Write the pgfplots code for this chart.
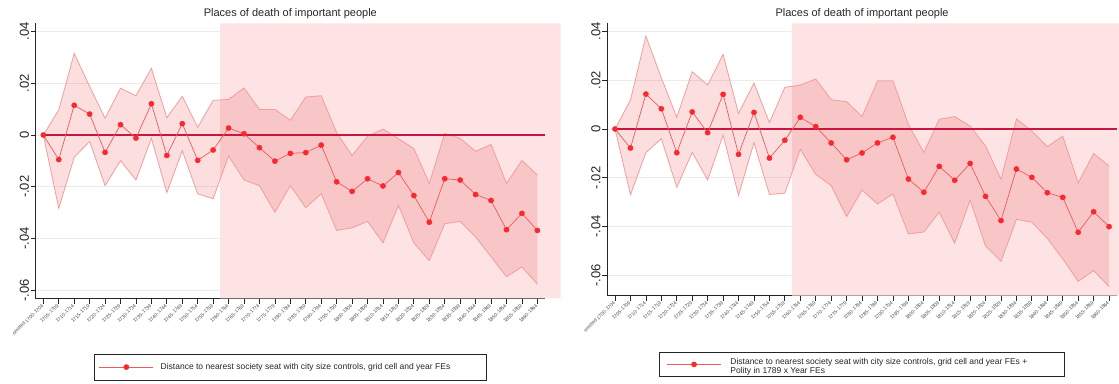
\documentclass[border=0pt]{standalone}
\usepackage{fontspec}
\setmainfont{Liberation Sans}
\usepackage{pgfplots}
\pgfplotsset{compat=1.18}
\usepackage{pgfplotstable}
\usepgfplotslibrary{fillbetween}

\definecolor{shade}{RGB}{253,227,228}
\definecolor{bandfill}{RGB}{235,60,60}
\definecolor{bandedge}{RGB}{244,168,168}
\definecolor{lnred}{RGB}{238,90,90}
\definecolor{mkred}{RGB}{250,40,45}
\definecolor{zeroln}{RGB}{200,22,62}

% x = period index (0 = omitted 1700-1704), est = estimate, lo/hi = 95% CI
\pgfplotstableread{
x est lo hi
0 0 0 0
1 -0.0095 -0.0284 0.0097
2 0.0115 -0.0086 0.0316
3 0.0081 -0.0025 0.0188
4 -0.0067 -0.0196 0.0065
5 0.0040 -0.0099 0.0181
6 -0.0012 -0.0174 0.0152
7 0.0121 -0.0013 0.0258
8 -0.0079 -0.0223 0.0067
9 0.0044 -0.0061 0.0150
10 -0.0098 -0.0228 0.0030
11 -0.0058 -0.0246 0.0134
12 0.0027 -0.0081 0.0138
13 0.0005 -0.0174 0.0182
14 -0.0049 -0.0196 0.0099
15 -0.0101 -0.0299 0.0099
16 -0.0071 -0.0196 0.0057
17 -0.0068 -0.0281 0.0147
18 -0.0039 -0.0227 0.0152
19 -0.0181 -0.0369 0.0009
20 -0.0218 -0.0359 -0.0079
21 -0.0169 -0.0334 -0.0005
22 -0.0197 -0.0417 0.0023
23 -0.0145 -0.0272 -0.0014
24 -0.0234 -0.0417 -0.0052
25 -0.0337 -0.0486 -0.0187
26 -0.0169 -0.0343 0.0006
27 -0.0174 -0.0334 -0.0013
28 -0.0230 -0.0394 -0.0063
29 -0.0253 -0.0471 -0.0036
30 -0.0366 -0.0548 -0.0187
31 -0.0303 -0.0510 -0.0098
32 -0.0369 -0.0577 -0.0155
}\dataA

\pgfplotstableread{
x est lo hi
0 0 0 0
1 -0.0078 -0.0270 0.0119
2 0.0143 -0.0097 0.0381
3 0.0083 -0.0040 0.0210
4 -0.0097 -0.0239 0.0048
5 0.0070 -0.0096 0.0235
6 -0.0015 -0.0209 0.0180
7 0.0142 -0.0025 0.0306
8 -0.0104 -0.0272 0.0064
9 0.0068 -0.0056 0.0188
10 -0.0119 -0.0268 0.0026
11 -0.0046 -0.0263 0.0171
12 0.0048 -0.0083 0.0180
13 0.0010 -0.0186 0.0205
14 -0.0057 -0.0232 0.0120
15 -0.0126 -0.0359 0.0112
16 -0.0098 -0.0250 0.0051
17 -0.0057 -0.0307 0.0197
18 -0.0034 -0.0266 0.0198
19 -0.0205 -0.0430 0.0019
20 -0.0259 -0.0422 -0.0096
21 -0.0153 -0.0341 0.0040
22 -0.0210 -0.0468 0.0051
23 -0.0141 -0.0291 0.0012
24 -0.0276 -0.0479 -0.0070
25 -0.0375 -0.0542 -0.0206
26 -0.0164 -0.0370 0.0041
27 -0.0198 -0.0382 -0.0008
28 -0.0261 -0.0448 -0.0072
29 -0.0280 -0.0532 -0.0029
30 -0.0423 -0.0624 -0.0221
31 -0.0339 -0.0580 -0.0100
32 -0.0400 -0.0646 -0.0152
}\dataB

\pgfplotsset{
  eventstudy/.style={
    scale only axis,
    width=509.5pt,
    xmin=-0.5, xmax=32.5,
    clip=false,
    axis x line*=bottom, axis y line*=left,
    axis line style={line width=1pt, black!85},
    tick align=outside, major tick length=5pt,
    tick style={line width=0.8pt, black!85},
    xtick={0,...,32},
    xticklabels={omitted 1700-1704,1705-1709,1710-1714,1715-1719,1720-1724,1725-1729,
      1730-1734,1735-1739,1740-1744,1745-1749,1750-1754,1755-1759,1760-1764,1765-1769,
      1770-1774,1775-1779,1780-1784,1785-1789,1790-1794,1795-1799,1800-1804,1805-1809,
      1810-1814,1815-1819,1820-1824,1825-1829,1830-1834,1835-1839,1840-1844,1845-1849,
      1850-1854,1855-1859,1860-1864},
    xticklabel style={rotate=45, anchor=east, inner sep=1pt,
      font=\fontsize{5}{6}\selectfont, black!70},
    scaled y ticks=false,
    ytick={-0.06,-0.04,-0.02,0,0.02,0.04},
    yticklabels={-.06,-.04,-.02,0,.02,.04},
    yticklabel style={rotate=90, anchor=south, inner sep=1.5pt,
      font=\fontsize{13}{13}\selectfont, black!85},
    ymajorgrids, grid style={line width=0.8pt, black!8},
    title={Places of death of important people},
    title style={font=\fontsize{11}{11}\selectfont, black!85, yshift=-5pt},
    legend cell align=left,
    legend image code/.code={\draw[#1, mark repeat=2, mark phase=2]
      plot coordinates {(0pt,0pt) (27pt,0pt) (54pt,0pt)};},
    legend style={anchor=north, draw=black!85, line width=0.8pt,
      nodes={inner sep=0pt}, font=\fontsize{8.5}{8.5}\selectfont,
      text=black!85,
      /tikz/every odd column/.append style={column sep=7pt}},
  },
  band/.style={draw=bandedge, line width=0.8pt, forget plot},
  est/.style={color=lnred, line width=0.7pt, mark=*, mark size=2.6pt,
    mark options={solid, fill=mkred, draw=mkred, line width=0.4pt}},
  zero/.style={draw=zeroln, line width=1.25pt, forget plot},
}

\begin{document}
\begin{tikzpicture}
\path (0,0) rectangle (1119pt,383pt);

\begin{axis}[eventstudy, at={(35.6pt,84pt)}, anchor=south west,
  height=275.7pt, ymin=-0.0634, ymax=0.0432,
  legend style={at={(0.5,-0.199)}, inner xsep=5pt, inner ysep=9pt}]
\addplot[fill=shade, draw=none, forget plot] coordinates
  {(11.45,-0.0632) (33.5,-0.0632) (33.5,0.0432) (11.45,0.0432) (11.45,-0.0632)};
\addplot[band, name path=hiA] table[x=x, y=hi] {\dataA};
\addplot[band, name path=loA] table[x=x, y=lo] {\dataA};
\addplot[bandfill, fill opacity=0.17, forget plot]
  fill between[of=hiA and loA, on layer=main];
\addplot[zero] coordinates {(0,0) (32.5,0)};
\addplot[est] table[x=x, y=est] {\dataA};
\addlegendentry{\makebox[321pt][l]{Distance to nearest society seat with city size controls, grid cell and year FEs}}
\end{axis}

\begin{axis}[eventstudy, at={(607.3pt,87pt)}, anchor=south west,
  height=272.7pt, ymin=-0.0684, ymax=0.0433,
  legend style={at={(0.5,-0.206)}, inner xsep=7pt, inner ysep=6pt,
    /tikz/every odd column/.append style={column sep=9pt}}]
\addplot[fill=shade, draw=none, forget plot] coordinates
  {(11.45,-0.0682) (32.64,-0.0682) (32.64,0.0433) (11.45,0.0433) (11.45,-0.0682)};
\addplot[band, name path=hiB] table[x=x, y=hi] {\dataB};
\addplot[band, name path=loB] table[x=x, y=lo] {\dataB};
\addplot[bandfill, fill opacity=0.17, forget plot]
  fill between[of=hiB and loB, on layer=main];
\addplot[zero] coordinates {(0,0) (32.5,0)};
\addplot[est] table[x=x, y=est] {\dataB};
\addlegendentry{\parbox[c]{327pt}{\raggedright\baselineskip=8.5pt Distance to nearest society seat with city size controls, grid cell and year FEs +\\Polity in 1789 x Year FEs}}
\end{axis}
\end{tikzpicture}
\end{document}
